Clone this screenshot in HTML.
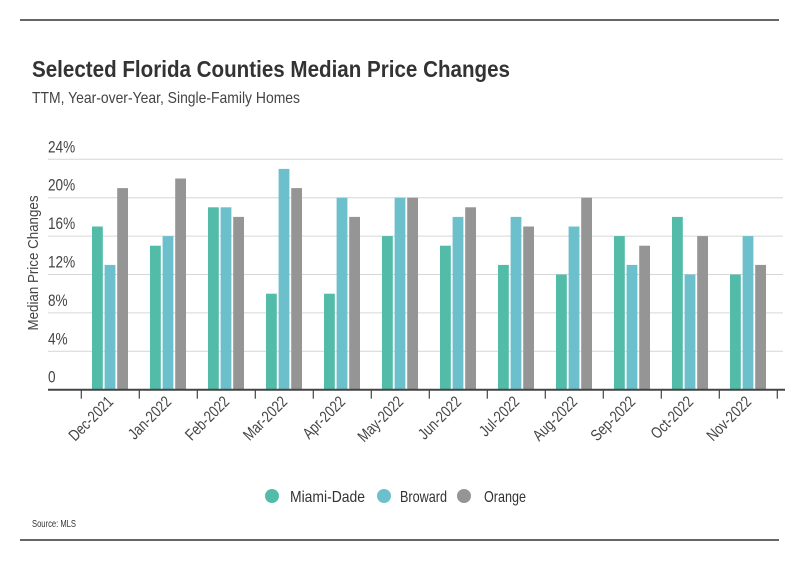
<!DOCTYPE html>
<html><head><meta charset="utf-8"><style>
body{margin:0;background:#fff;width:799px;height:575px;overflow:hidden;font-family:"Liberation Sans",sans-serif;}
</style></head><body>
<svg width="799" height="575" xmlns="http://www.w3.org/2000/svg" id="svg" font-family="'Liberation Sans',sans-serif">
<line x1="20" y1="20" x2="779" y2="20" stroke="#333" stroke-width="1.5"/>
<line x1="20" y1="540" x2="779" y2="540" stroke="#333" stroke-width="1.5"/>
<text x="32" y="77" font-size="23" font-weight="bold" fill="#333" textLength="478" lengthAdjust="spacingAndGlyphs">Selected Florida Counties Median Price Changes</text>
<text x="32" y="103" font-size="16" fill="#444" textLength="268" lengthAdjust="spacingAndGlyphs">TTM, Year-over-Year, Single-Family Homes</text>
<text transform="translate(38,263) rotate(-90)" text-anchor="middle" font-size="15" fill="#444" textLength="135" lengthAdjust="spacingAndGlyphs">Median Price Changes</text>
<g id="grid"></g><g id="bars"></g><g id="xaxis"></g>
<g>
<circle cx="272" cy="496" r="7" fill="#52BCA9"/>
<text x="290" y="502" font-size="16" fill="#333" textLength="75" lengthAdjust="spacingAndGlyphs">Miami-Dade</text>
<circle cx="384" cy="496" r="7" fill="#6BC0CB"/>
<text x="400" y="502" font-size="16" fill="#333" textLength="47" lengthAdjust="spacingAndGlyphs">Broward</text>
<circle cx="464" cy="496" r="7" fill="#959595"/>
<text x="484" y="502" font-size="16" fill="#333" textLength="42" lengthAdjust="spacingAndGlyphs">Orange</text>
</g>
<text x="32" y="527" font-size="10" fill="#333" textLength="44" lengthAdjust="spacingAndGlyphs">Source: MLS</text>
</svg>
<script>
const categories=["Dec-2021","Jan-2022","Feb-2022","Mar-2022","Apr-2022","May-2022","Jun-2022","Jul-2022","Aug-2022","Sep-2022","Oct-2022","Nov-2022"];
const miamiDade=[17,15,19,10,10,16,15,13,12,16,18,12];
const broward=[13,16,19,23,20,20,18,18,17,13,12,16];
const orange=[21,22,18,21,18,20,19,17,20,15,16,13];
const yTicks=[0,4,8,12,16,20,24];
const yTickLabels=["0","4%","8%","12%","16%","20%","24%"];
const NS="http://www.w3.org/2000/svg";
const x0=81.3,step=58,base=389.7,pxPer=9.6;
const y=v=>base-v*pxPer;
const xc=i=>x0+step*(i+0.5);
function mk(tag,attrs,parent){const e=document.createElementNS(NS,tag);for(const k in attrs)e.setAttribute(k,attrs[k]);parent.appendChild(e);return e;}
const grid=document.getElementById('grid'),bars=document.getElementById('bars'),xa=document.getElementById('xaxis');
yTicks.forEach((t,i)=>{
 if(t>0){const l=mk('line',{x1:48,x2:783,y1:y(t),y2:y(t),stroke:'#d6d6d6','stroke-width':1},grid);
 
 }
 const tx=mk('text',{transform:`translate(48,${y(t)-7}) scale(0.8,1)`,'font-size':17,fill:'#444'},grid);tx.textContent=yTickLabels[i];
 
 
});
const series=[[miamiDade,'#52BCA9','miami-dade'],[broward,'#6BC0CB','broward'],[orange,'#959595','orange']];
categories.forEach((c,i)=>{
 series.forEach((s,j)=>{
  const v=s[0][i];
  const r=mk('rect',{x:xc(i)-18.3+j*12.6,y:y(v),width:10.8,height:base-y(v),fill:s[1]},bars);
  
  
 });
 const tx=mk('text',{transform:`translate(${xc(i)+4},${base+13}) rotate(-45) scale(0.8,1)`,'text-anchor':'end','font-size':16,fill:'#444'},xa);
 tx.textContent=c;
 
 
});
for(let i=0;i<=categories.length;i++){
 const t=mk('line',{x1:x0+step*i,x2:x0+step*i,y1:base,y2:base+9,stroke:'#444','stroke-width':1.2},xa);
 
 
}
const ax=mk('line',{x1:48,x2:785,y1:base,y2:base,stroke:'#444','stroke-width':2},xa);


</script>
</body></html>
